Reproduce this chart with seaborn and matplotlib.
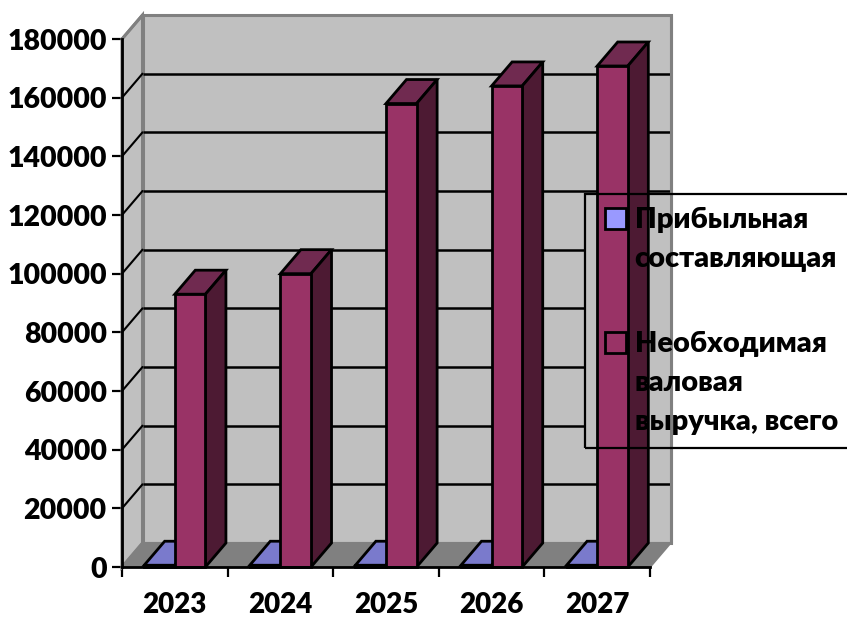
import numpy as np
import pandas as pd
import seaborn as sns
import matplotlib.pyplot as plt
from matplotlib.patches import Polygon, Patch, Rectangle
from matplotlib.legend_handler import HandlerPatch

years = ["2023", "2024", "2025", "2026", "2027"]
profit = [600, 600, 600, 600, 600]
revenue = [93000, 100000, 158000, 164000, 170800]
series_names = ["Прибыльная\nсоставляющая", "Необходимая\nваловая\nвыручка, всего"]
yticks = [0, 20000, 40000, 60000, 80000, 100000, 120000, 140000, 160000, 180000]

WALL, FLOOR, EDGE = "#C0C0C0", "#808080", "#808080"
FRONT = ["#9999FF", "#993366"]
TOP = ["#7A7ACC", "#702A50"]
SIDE = ["#4D4D80", "#4D1A33"]

W, H = 847, 617
sns.set_theme(style="white")
plt.rcParams["font.family"] = ["Lato", "DejaVu Sans"]
plt.rcParams["font.weight"] = 800

fig = plt.figure(figsize=(W / 100, H / 100), dpi=100)
ax = fig.add_axes([122 / W, (H - 567) / H, 528 / W, 528 / H])

df = pd.DataFrame({
    "year": years * 2,
    "series": [series_names[0]] * 5 + [series_names[1]] * 5,
    "value": profit + revenue,
})
sns.barplot(data=df, x="year", y="value", hue="series", palette=FRONT, width=0.58, gap=0, saturation=1,
            edgecolor="black", linewidth=2, legend=False, ax=ax)
ax.set_xlim(-0.5, 4.5)
ax.set_ylim(0, 180000)

# depth of the pseudo-3D box, in data units
dx = 20.5 / 105.6
dy = 24 / 528 * 180000
x0, x1 = -0.5, 4.5
ytop = 180000

def poly(pts, fc, ec, lw, z):
    ax.add_patch(Polygon(pts, closed=True, facecolor=fc, edgecolor=ec, linewidth=lw,
                         zorder=z, clip_on=False, joinstyle="miter"))

# walls and floor
poly([(x0 + dx, dy), (x1 + dx, dy), (x1 + dx, ytop + dy), (x0 + dx, ytop + dy)], WALL, EDGE, 2.2, 0.5)
poly([(x0, 0), (x0 + dx, dy), (x0 + dx, ytop + dy), (x0, ytop)], WALL, EDGE, 2.2, 0.6)
poly([(x0, 0), (x1, 0), (x1 + dx, dy), (x0 + dx, dy)], FLOOR, EDGE, 1.5, 0.7)

# gridlines on back and side wall
for v in yticks[1:-1]:
    ax.plot([x0 + dx, x1 + dx], [v + dy, v + dy], color="black", lw=1.8, zorder=1, clip_on=False,
            solid_capstyle="butt")
    ax.plot([x0, x0 + dx], [v, v + dy], color="black", lw=1.5, zorder=1, clip_on=False)
ax.plot([x0, x0 + dx], [ytop, ytop + dy], color=EDGE, lw=2, zorder=1, clip_on=False)

# the legend area hides the gridlines behind it
lx0, lx1 = (585 - 122) / 105.6 - 0.5, x1 + dx
ly0, ly1 = (567 - 443) / 528 * 180000, (567 - 194) / 528 * 180000
ax.add_patch(Rectangle((lx0, ly0), lx1 - lx0, ly1 - ly0, facecolor=WALL, edgecolor="none",
                       zorder=1.5, clip_on=False))
ax.plot([x1 + dx, x1 + dx], [dy, ytop + dy], color=EDGE, lw=2.2, zorder=1.6, clip_on=False,
        solid_capstyle="butt")

# bars: extrude each seaborn rectangle
for i, bar in enumerate(ax.patches[:10]):
    s = 0 if i < 5 else 1
    bx, bw, bh = bar.get_x(), bar.get_width(), bar.get_height()
    base = 3 + s
    poly([(bx, bh), (bx + dx, bh + dy), (bx + bw + dx, bh + dy), (bx + bw, bh)], TOP[s], "black", 2, base)
    poly([(bx + bw, 0), (bx + bw + dx, dy), (bx + bw + dx, bh + dy), (bx + bw, bh)], SIDE[s], "black", 2, base)
    bar.set_zorder(base + 0.1)
    bar.set_clip_on(False)

# axes
for name in ["top", "right"]:
    ax.spines[name].set_visible(False)
for name in ["left", "bottom"]:
    ax.spines[name].set_color("black")
    ax.spines[name].set_linewidth(2)
    ax.spines[name].set_zorder(4.5)

ax.set_yticks(yticks)
ax.set_yticklabels([str(v) for v in yticks])
ax.set_xticks(np.arange(-0.5, 5, 1))
ax.set_xticklabels([])
ax.set_xticks(range(5), labels=years, minor=True)
ax.tick_params(axis="y", which="major", left=True, length=7.5, width=1.6, color="black", pad=3.5,
               labelsize=20.5, labelcolor="black")
ax.tick_params(axis="x", which="major", bottom=True, length=7.5, width=1.6, color="black")
ax.tick_params(axis="x", which="minor", bottom=False, length=0, pad=18, labelsize=20, labelcolor="black")
ax.set_xlabel("")
ax.set_ylabel("")


class OffsetSquare(HandlerPatch):
    """Legend square placed beside the first line of its label."""
    def __init__(self, shift, lift):
        super().__init__()
        self.shift = shift
        self.lift = lift

    def create_artists(self, legend, orig_handle, xdescent, ydescent, width, height, fontsize, trans):
        r = Rectangle((-xdescent + self.shift, -ydescent + self.lift), height, height)
        self.update_prop(r, orig_handle, legend)
        r.set_transform(trans)
        return [r]


h0 = Patch(facecolor=FRONT[0], edgecolor="black", linewidth=2)
h1 = Patch(facecolor=FRONT[1], edgecolor="black", linewidth=2)
leg = ax.legend([h0, h1], series_names, loc="upper left",
                bbox_to_anchor=(585 / W, (H - 194) / H), bbox_transform=fig.transFigure,
                borderaxespad=0, frameon=True, fancybox=False,
                edgecolor="black", facecolor="none", fontsize=20.9, labelspacing=2.02,
                handlelength=1.0, handleheight=0.71,
                handletextpad=0.25, borderpad=0.46, labelcolor="black",
                handler_map={h0: OffsetSquare(5, 15.5), h1: OffsetSquare(5, 29.5)})
leg.get_frame().set_alpha(None)
leg.get_frame().set_facecolor("none")
leg.get_frame().set_linewidth(1.6)
for t in leg.get_texts():
    t.set_linespacing(1.62)
leg.set_zorder(6)

fig.savefig("out.png", dpi=100, facecolor="white")
